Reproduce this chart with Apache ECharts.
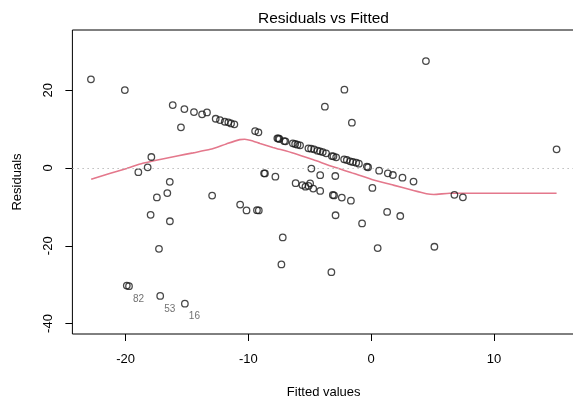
<!DOCTYPE html>
<html>
<head>
<meta charset="utf-8">
<script src="https://cdn.jsdelivr.net/npm/echarts@6/dist/echarts.min.js"></script>
<style>
html,body{margin:0;padding:0;background:#fff;}
#chart{width:573px;height:401px;}
</style>
</head>
<body>
<div id="chart"></div>
<script>
// Fitted values (x) and residuals (y) for each observation
var fittedValues = [
  -22.82, -20.06, -16.16, -15.21, -14.43, -13.77, -13.37, -15.49, -12.66, -12.31,
  -11.92, -11.63, -11.41, -11.14, -9.45, -9.18, -7.64, -7.55, -7.47, -7.09,
  -6.98, -6.38, -6.19, -6.00, -5.79, -5.11, -4.89, -4.65, -4.37, -4.16,
  -3.94, -3.67, -3.20, -3.07, -2.85, -2.20, -1.98, -1.71, -1.49, -1.22,
  -1.00, -0.35, -0.25, 0.65, 1.36, 1.77, 2.55, 3.45, -3.77, -2.18,
  -1.57, 4.46, 15.10, -17.90, -18.20, -18.96, -16.40, -16.60, -17.45, -17.96,
  -16.39, -17.28, -19.90, -19.72, -17.18, -15.17, -12.95, -10.67, -10.15, -9.30,
  -9.15, -8.72, -8.65, -7.80, -7.20, -7.31, -3.24, -6.15, -5.60, -5.35,
  -5.10, -4.97, -4.72, -4.15, -4.87, -4.15, -2.92, -3.12, -3.02, -2.39,
  -1.65, -2.90, -0.74, 0.10, 1.30, 2.37, 0.53, 5.15, 6.78, 7.47
];
var residuals = [
  22.80, 20.05, 16.20, 15.17, 14.40, 13.80, 14.30, 10.46, 12.67, 12.34,
  11.90, 11.74, 11.48, 11.23, 9.50, 9.17, 7.63, 7.60, 7.46, 6.94,
  6.86, 6.35, 6.17, 6.00, 5.83, 5.06, 4.97, 4.80, 4.45, 4.28,
  4.11, 3.77, 3.08, 3.00, 2.74, 2.23, 2.06, 1.71, 1.54, 1.37,
  1.11, 0.34, 0.20, -0.68, -1.37, -1.80, -2.50, -3.50, 15.77, 20.15,
  11.65, 27.50, 4.80, 2.83, 0.17, -1.08, -3.55, -6.45, -7.57, -12.05,
  -13.70, -20.80, -30.25, -30.40, -32.90, -34.90, -7.10, -9.40, -10.90, -10.85,
  -10.90, -1.37, -1.40, -2.23, -17.85, -24.80, -26.80, -3.90, -4.40, -4.80,
  -4.60, -3.94, -5.30, -5.90, -0.15, -1.85, -2.06, -6.94, -7.05, -7.60,
  -8.40, -12.15, -14.25, -5.12, -11.30, -12.35, -20.60, -20.25, -6.90, -7.54
];
// Labelled observations (largest absolute residuals)
var outlierIndex = [63, 64, 65];
var outlierLabels = ['82', '53', '16'];
// Smoothed (lowess) trend line
var smoothX = [-22.8, -21.3, -19.9, -18.6, -17.2, -15.8, -14.5, -13.1, -11.8, -10.7, -10.3, -9.6, -9.05, -8.0, -6.3, -4.7, -3.1, -1.4, 0.2, 1.8, 3.45, 4.5, 5.1, 6.4, 15.1];
var smoothY = [-2.9, -1.4, -0.1, 1.2, 2.2, 3.1, 3.9, 4.8, 6.2, 7.3, 7.4, 6.9, 6.3, 5.3, 3.8, 2.1, 0.3, -1.4, -3.1, -4.4, -5.8, -6.6, -6.8, -6.5, -6.5];
// Axis ticks
var xTicks = [-20, -10, 0, 10];
var yTicks = [-40, -20, 0, 20];

var FONT = "'Liberation Sans', Arial, Helvetica, sans-serif";

var pointData = fittedValues.map(function (x, i) {
  var item = { value: [x, residuals[i]] };
  var k = outlierIndex.indexOf(i);
  if (k >= 0) {
    item.label = {
      show: true,
      formatter: outlierLabels[k],
      position: 'inside',
      offset: [9.5, 13],
      fontSize: 10,
      color: '#4d4d4d',
      fontFamily: FONT
    };
  }
  return item;
});
var smoothData = smoothX.map(function (x, i) { return [x, smoothY[i]]; });

var chart = echarts.init(document.getElementById('chart'), null, { renderer: 'canvas' });
chart.setOption({
  animation: false,
  backgroundColor: '#ffffff',
  title: {
    text: 'Residuals vs Fitted',
    left: 258,
    top: 11,
    padding: 0,
    textStyle: { fontFamily: FONT, fontSize: 15.5, fontWeight: 'normal', color: '#000' }
  },
  grid: {
    left: 72.4,
    top: 30,
    width: 502.6,
    height: 304,
    outerBoundsMode: 'none',
    containLabel: false,
    show: true,
    borderColor: '#000',
    borderWidth: 1,
    backgroundColor: 'transparent'
  },
  xAxis: {
    type: 'value',
    min: -24.33,
    max: 16.6,
    name: 'Fitted values',
    nameLocation: 'middle',
    nameGap: 52,
    nameTextStyle: { fontFamily: FONT, fontSize: 13, color: '#000' },
    axisLine: { show: false, onZero: false },
    splitLine: { show: false },
    axisTick: { show: true, length: 7, customValues: xTicks, lineStyle: { color: '#000', width: 1 } },
    axisLabel: { customValues: xTicks, margin: 19, fontFamily: FONT, fontSize: 13, color: '#000' }
  },
  yAxis: {
    type: 'value',
    min: -42.7,
    max: 35.5,
    name: 'Residuals',
    nameLocation: 'middle',
    nameGap: 48,
    nameTextStyle: { fontFamily: FONT, fontSize: 13, color: '#000' },
    axisLine: { show: false, onZero: false },
    splitLine: { show: false },
    axisTick: { show: true, length: 7, customValues: yTicks, lineStyle: { color: '#000', width: 1 } },
    axisLabel: { customValues: yTicks, rotate: 90, margin: 17, fontFamily: FONT, fontSize: 13, color: '#000' }
  },
  series: [
    {
      type: 'line',
      data: smoothData,
      showSymbol: false,
      smooth: 0.2,
      silent: true,
      z: 2,
      lineStyle: { color: '#E4788C', width: 1.6 },
      markLine: {
        silent: true,
        symbol: ['none', 'none'],
        label: { show: false },
        lineStyle: { color: '#bdbdbd', type: [1.5, 3.5], width: 1.2 },
        data: [{ yAxis: 0 }]
      }
    },
    {
      type: 'scatter',
      data: pointData,
      symbol: 'circle',
      symbolSize: 6.5,
      z: 3,
      itemStyle: { color: 'rgba(0,0,0,0)', borderColor: '#1a1a1a', borderWidth: 1.3 }
    }
  ]
});
</script>
</body>
</html>
